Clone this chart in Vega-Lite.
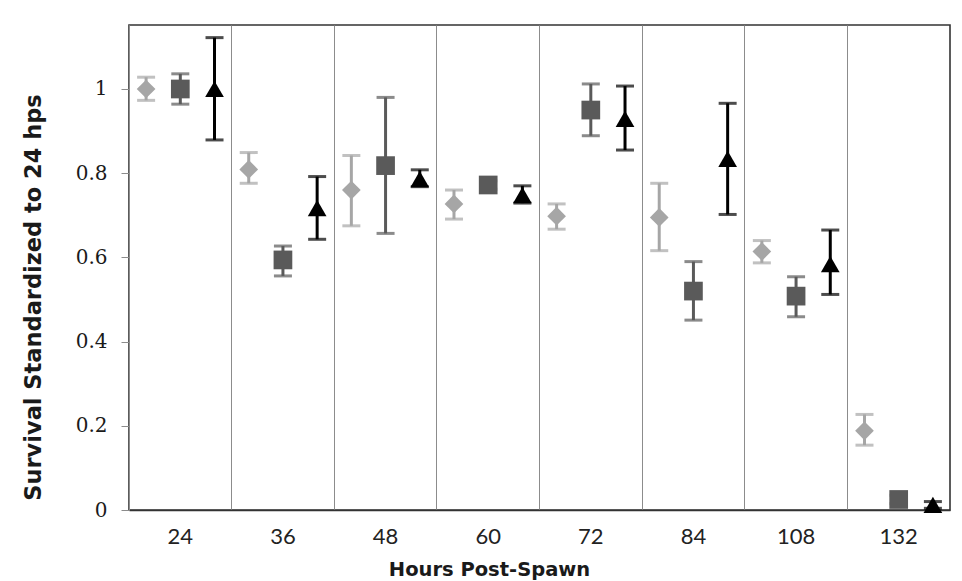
{
  "$schema": "https://vega.github.io/schema/vega-lite/v6.json",
  "width": 821,
  "height": 485,
  "autosize": {"type": "none"},
  "padding": {"left": 129, "top": 25, "right": 12, "bottom": 71},
  "background": "white",
  "data": {
    "values": [
      {"hours": 24, "series": "Series 1", "mean": 1.0, "lo": 0.973, "hi": 1.028},
      {"hours": 24, "series": "Series 2", "mean": 1.0, "lo": 0.964, "hi": 1.036},
      {"hours": 24, "series": "Series 3", "mean": 1.0, "lo": 0.879, "hi": 1.122},
      {"hours": 36, "series": "Series 1", "mean": 0.809, "lo": 0.776, "hi": 0.849},
      {"hours": 36, "series": "Series 2", "mean": 0.594, "lo": 0.556, "hi": 0.627},
      {"hours": 36, "series": "Series 3", "mean": 0.717, "lo": 0.643, "hi": 0.792},
      {"hours": 48, "series": "Series 1", "mean": 0.76, "lo": 0.675, "hi": 0.842},
      {"hours": 48, "series": "Series 2", "mean": 0.818, "lo": 0.657, "hi": 0.98},
      {"hours": 48, "series": "Series 3", "mean": 0.786, "lo": 0.768, "hi": 0.808},
      {"hours": 60, "series": "Series 1", "mean": 0.727, "lo": 0.691, "hi": 0.76},
      {"hours": 60, "series": "Series 2", "mean": 0.772, "lo": 0.762, "hi": 0.782},
      {"hours": 60, "series": "Series 3", "mean": 0.748, "lo": 0.729, "hi": 0.77},
      {"hours": 72, "series": "Series 1", "mean": 0.698, "lo": 0.667, "hi": 0.727},
      {"hours": 72, "series": "Series 2", "mean": 0.95, "lo": 0.889, "hi": 1.012},
      {"hours": 72, "series": "Series 3", "mean": 0.929, "lo": 0.855, "hi": 1.007},
      {"hours": 84, "series": "Series 1", "mean": 0.695, "lo": 0.616, "hi": 0.776},
      {"hours": 84, "series": "Series 2", "mean": 0.52, "lo": 0.451, "hi": 0.59},
      {"hours": 84, "series": "Series 3", "mean": 0.834, "lo": 0.702, "hi": 0.966},
      {"hours": 108, "series": "Series 1", "mean": 0.614, "lo": 0.587, "hi": 0.64},
      {"hours": 108, "series": "Series 2", "mean": 0.508, "lo": 0.459, "hi": 0.554},
      {"hours": 108, "series": "Series 3", "mean": 0.584, "lo": 0.512, "hi": 0.665},
      {"hours": 132, "series": "Series 1", "mean": 0.188, "lo": 0.154, "hi": 0.227},
      {"hours": 132, "series": "Series 2", "mean": 0.025, "lo": 0.015, "hi": 0.035},
      {"hours": 132, "series": "Series 3", "mean": 0.012, "lo": 0.004, "hi": 0.02}
    ]
  },
  "encoding": {
    "x": {
      "field": "hours",
      "type": "ordinal",
      "scale": {"paddingInner": 0, "paddingOuter": 0},
      "axis": {
        "title": "Hours Post-Spawn",
        "titleFont": "DejaVu Sans",
        "titleFontSize": 19.5,
        "titleFontWeight": "bold",
        "titleColor": "#1a1a1a",
        "titleX": 360,
        "titleY": 65,
        "titleBaseline": "alphabetic",
        "titleAnchor": "middle",
        "labelAngle": 0,
        "labelFont": "Lato",
        "labelFontSize": 22,
        "labelColor": "#222222",
        "labelPadding": 16,
        "ticks": false,
        "grid": true,
        "gridColor": "#8c8c8c",
        "gridWidth": 1,
        "bandPosition": 0,
        "domainColor": "#333333",
        "domainWidth": 1.6
      }
    },
    "xOffset": {
      "field": "series",
      "type": "nominal",
      "scale": {"paddingInner": 0, "paddingOuter": 0}
    },
    "color": {
      "field": "series",
      "type": "nominal",
      "scale": {
        "domain": ["Series 1", "Series 2", "Series 3"],
        "range": ["#a6a6a6", "#5a5a5a", "#000000"]
      },
      "legend": null
    }
  },
  "layer": [
    {
      "mark": {"type": "rule", "strokeWidth": 3},
      "encoding": {
        "y": {
          "field": "lo",
          "type": "quantitative",
          "scale": {"domain": [0, 1.152], "nice": false, "zero": true},
          "title": "Survival Standardized to 24 hps",
          "axis": {
            "values": [0, 0.2, 0.4, 0.6, 0.8, 1],
            "format": "~g",
            "grid": false,
            "labelFont": "DejaVu Serif",
            "labelFontSize": 20,
            "labelColor": "#1a1a1a",
            "labelPadding": 14,
            "tickSize": 8,
            "tickColor": "#8c8c8c",
            "domainColor": "#8c8c8c",
            "titleFont": "DejaVu Sans",
            "titleFontSize": 22.5,
            "titleFontWeight": "bold",
            "titleColor": "#1a1a1a",
            "titleX": -89,
            "titleY": 272,
            "titleBaseline": "alphabetic",
            "titleAnchor": "middle"
          }
        },
        "y2": {"field": "hi"}
      }
    },
    {
      "mark": {"type": "tick", "thickness": 3, "size": 18},
      "encoding": {
        "y": {"field": "lo", "type": "quantitative", "title": "Survival Standardized to 24 hps"}
      }
    },
    {
      "mark": {"type": "tick", "thickness": 3, "size": 18},
      "encoding": {
        "y": {"field": "hi", "type": "quantitative", "title": "Survival Standardized to 24 hps"}
      }
    },
    {
      "mark": {"type": "point", "filled": true, "size": 350, "opacity": 1},
      "encoding": {
        "y": {"field": "mean", "type": "quantitative", "title": "Survival Standardized to 24 hps"},
        "shape": {
          "field": "series",
          "type": "nominal",
          "scale": {
            "domain": ["Series 1", "Series 2", "Series 3"],
            "range": ["diamond", "square", "triangle-up"]
          },
          "legend": null
        }
      }
    }
  ],
  "config": {
    "view": {"stroke": "#333333", "strokeWidth": 1.6}
  }
}
